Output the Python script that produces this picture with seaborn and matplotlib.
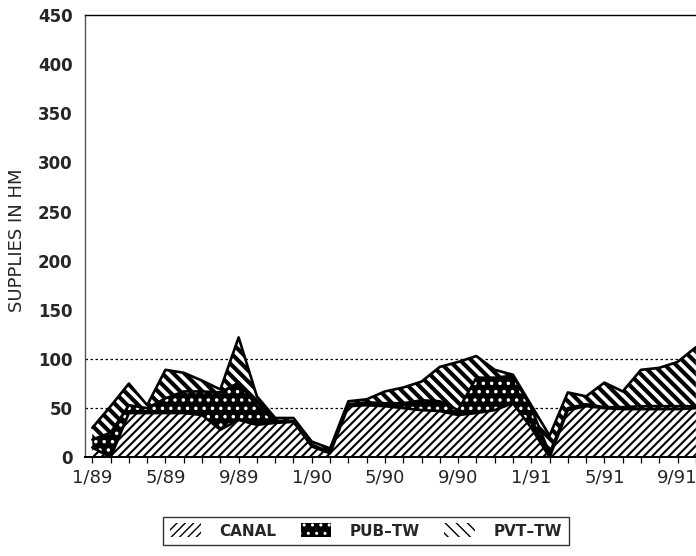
import numpy as np
import pandas as pd
import matplotlib
matplotlib.use("Agg")
import matplotlib.pyplot as plt
import matplotlib.ticker as mticker
from matplotlib.patches import Patch
import seaborn as sns

# monthly supplies, 1/89 .. 10/91
canal = [10, 0, 45, 45, 45, 45, 43, 28, 38, 33,
         35, 36, 11, 4, 52, 53, 52, 50, 48, 47,
         43, 45, 48, 55, 30, 0, 48, 52, 50, 49,
         49, 49, 49, 50]
pub_tw = [8, 25, 8, 5, 15, 22, 24, 38, 38, 19,
          2, 1, 2, 1, 2, 3, 3, 5, 10, 10,
          5, 36, 33, 28, 20, 4, 2, 2, 1, 2,
          3, 3, 3, 2]
pvt_tw = [12, 27, 22, 3, 29, 19, 11, 3, 46, 10,
          3, 3, 3, 4, 3, 3, 12, 16, 19, 35,
          49, 22, 8, 1, 3, 18, 16, 8, 25, 16,
          37, 39, 45, 60]
tick_labels = ["1/89", "5/89", "9/89", "1/90", "5/90", "9/90", "1/91", "5/91", "9/91"]
series_names = ["CANAL", "PUB\u2013TW", "PVT\u2013TW"]

sns.set_style("white")
plt.rcParams['font.family'] = ['DejaVu Sans']

x = np.arange(len(canal))
top1 = np.array(canal, dtype=float)
top2 = top1 + np.array(pub_tw)
top3 = top2 + np.array(pvt_tw)

fig = plt.figure(figsize=(6.96, 5.56), dpi=100)
ax = fig.add_axes([85 / 696, 98.7 / 556, 620 / 696, 442.3 / 556])

# dotted reference lines behind the areas
for yv in [50, 100]:
    ax.axhline(yv, color='black', lw=0.9, ls=(0, (2, 2)), zorder=1)

back = chr(92)
styles = [
    (0, top1, 'white', 'black', '////', 1.5),
    (top1, top2, 'black', 'white', '..', 1.3),
    (top2, top3, 'white', 'black', back * 3, 3.0),
]
handles = []
for (lo, hi, fc, hc, hatch, hlw), name in zip(styles, series_names):
    with plt.rc_context({'hatch.linewidth': hlw}):
        coll = ax.fill_between(x, lo, hi, facecolor=fc, edgecolor=hc,
                               hatch=hatch, linewidth=0, zorder=2)
        try:
            coll.set_hatch_linewidth(hlw)
        except AttributeError:
            pass
        h = Patch(facecolor=fc, edgecolor=hc, hatch=hatch, linewidth=0, label=name)
        try:
            h.set_hatch_linewidth(hlw)
        except AttributeError:
            pass
    handles.append(h)

# black outlines of the stacked layers
df = pd.DataFrame({
    'month': np.concatenate([x, x, x]),
    'value': np.concatenate([top1, top2, top3]),
    'layer': np.repeat(series_names, len(x)),
})
sns.lineplot(data=df, x='month', y='value', units='layer', estimator=None,
             color='black', lw=1.9, ax=ax, zorder=3, legend=False)

ax.set_xlim(-0.4, 33.5)
ax.set_ylim(0, 450)
ax.set_yticks(np.arange(0, 451, 50))
ax.set_yticklabels([str(v) for v in range(0, 451, 50)], fontweight='bold', fontsize=12)
ax.tick_params(axis='y', length=0, pad=9)

ax.set_xticks(np.arange(0, 33, 4))
ax.set_xticklabels(tick_labels, fontsize=13)
ax.xaxis.set_minor_locator(mticker.MultipleLocator(1))
ax.tick_params(axis='x', which='both', direction='out', length=4, width=0.9,
               color='black', bottom=True, pad=4)

ax.set_xlabel('')
ax.set_ylabel('SUPPLIES IN HM', fontsize=13)
ax.yaxis.set_label_coords(-0.095, 0.49)

ax.spines['left'].set_color('#555555')
ax.spines['left'].set_linewidth(1.0)
ax.spines['top'].set_color('black')
ax.spines['top'].set_linewidth(1.0)
ax.spines['bottom'].set_color('black')
ax.spines['bottom'].set_linewidth(1.4)
ax.spines['right'].set_visible(False)

leg = fig.legend(handles=handles, loc='center', bbox_to_anchor=(366 / 696, 25 / 556),
                 ncol=3, frameon=True, fancybox=False, edgecolor='black',
                 prop={'weight': 'bold', 'size': 11}, handlelength=2.0,
                 handleheight=1.0, handletextpad=1.2, columnspacing=1.6,
                 borderpad=0.45, borderaxespad=0)
leg.get_frame().set_linewidth(1.0)

fig.savefig('out.png', dpi=100, facecolor='white')
